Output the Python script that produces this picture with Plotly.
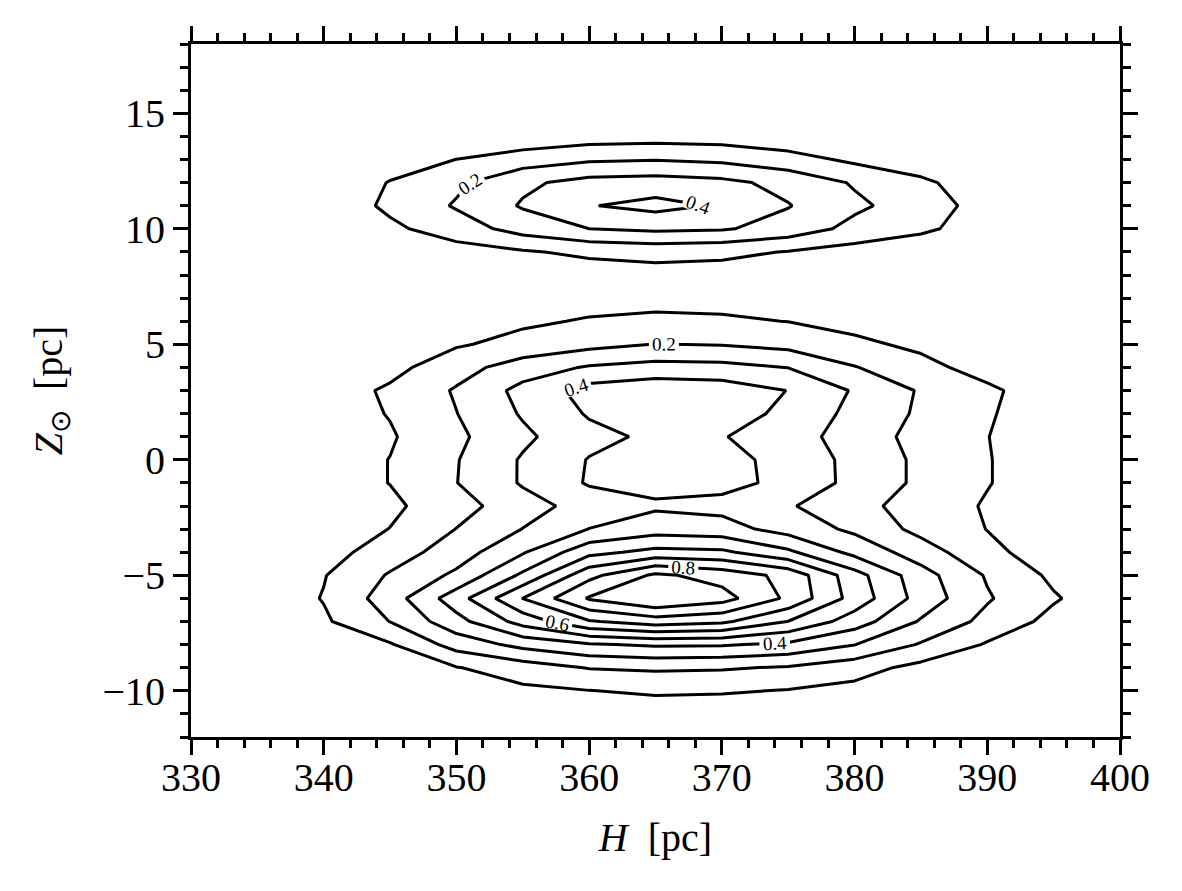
import plotly.graph_objects as go

# grid of the density map
h_pc = [330, 335, 340, 345, 350, 355, 360, 365, 370, 375, 380, 385, 390, 395, 400]
z_pc = list(range(-12, 19))

# rows Z = -12 .. -3
dens_bottom = [
    [0, 0, 0, 0, 0, 0, 0, 0, 0, 0, 0, 0, 0, 0, 0],
    [0, 0, 0, 0, 0.01, 0.02, 0.03, 0.04, 0.035, 0.02, 0.01, 0, 0, 0, 0],
    [0, 0, 0, 0.02, 0.05, 0.08, 0.098, 0.115, 0.11, 0.095, 0.07, 0.04, 0.01, 0, 0],
    [0, 0, 0, 0.04, 0.095, 0.15, 0.205, 0.215, 0.21, 0.19, 0.14, 0.07, 0.02, 0, 0],
    [0, 0, 0.02, 0.09, 0.24, 0.33, 0.39, 0.415, 0.41, 0.38, 0.302, 0.19, 0.09, 0.03, 0],
    [0, 0.02, 0.085, 0.202, 0.365, 0.54, 0.69, 0.75, 0.72, 0.598, 0.45, 0.29, 0.17, 0.07, 0.02],
    [0, 0.03, 0.105, 0.25, 0.455, 0.702, 0.91, 1.0, 0.94, 0.78, 0.56, 0.36, 0.21, 0.11, 0.03],
    [0, 0.02, 0.095, 0.21, 0.32, 0.52, 0.77, 0.92, 0.86, 0.77, 0.54, 0.34, 0.19, 0.08, 0.02],
    [0, 0.01, 0.06, 0.15, 0.25, 0.39, 0.57, 0.63, 0.62, 0.52, 0.37, 0.25, 0.125, 0.05, 0],
    [0, 0.01, 0.04, 0.102, 0.202, 0.302, 0.402, 0.455, 0.44, 0.36, 0.28, 0.17, 0.098, 0.04, 0],
]
# rows Z = -2 .. 7
dens_mid = [
    [0, 0, 0.03, 0.08, 0.16, 0.26, 0.34, 0.385, 0.37, 0.31, 0.23, 0.16, 0.09, 0.03, 0],
    [0, 0.01, 0.05, 0.102, 0.198, 0.31, 0.41, 0.435, 0.43, 0.375, 0.27, 0.18, 0.105, 0.04, 0],
    [0, 0.01, 0.05, 0.102, 0.195, 0.31, 0.405, 0.44, 0.43, 0.37, 0.27, 0.18, 0.105, 0.04, 0],
    [0, 0.01, 0.04, 0.09, 0.18, 0.28, 0.37, 0.42, 0.405, 0.35, 0.25, 0.17, 0.102, 0.035, 0],
    [0, 0.01, 0.05, 0.105, 0.198, 0.31, 0.41, 0.45, 0.44, 0.38, 0.27, 0.185, 0.11, 0.04, 0],
    [0, 0.01, 0.05, 0.115, 0.21, 0.33, 0.44, 0.47, 0.455, 0.398, 0.29, 0.19, 0.12, 0.04, 0],
    [0, 0.01, 0.04, 0.07, 0.16, 0.25, 0.31, 0.335, 0.33, 0.298, 0.205, 0.13, 0.06, 0.03, 0],
    [0, 0.01, 0.02, 0.05, 0.09, 0.13, 0.17, 0.202, 0.195, 0.17, 0.12, 0.08, 0.04, 0.01, 0],
    [0, 0, 0.01, 0.03, 0.05, 0.085, 0.108, 0.12, 0.115, 0.098, 0.07, 0.045, 0.02, 0.01, 0],
    [0, 0, 0.01, 0.02, 0.03, 0.05, 0.065, 0.07, 0.065, 0.05, 0.035, 0.02, 0.01, 0, 0],
]
# rows Z = 8 .. 18
dens_top = [
    [0, 0, 0, 0.01, 0.03, 0.04, 0.05, 0.06, 0.055, 0.04, 0.03, 0.01, 0, 0, 0],
    [0, 0, 0.01, 0.03, 0.06, 0.09, 0.12, 0.135, 0.125, 0.095, 0.06, 0.03, 0.01, 0, 0],
    [0, 0, 0.02, 0.08, 0.15, 0.24, 0.30, 0.32, 0.31, 0.26, 0.17, 0.12, 0.05, 0.01, 0],
    [0, 0, 0.03, 0.12, 0.21, 0.31, 0.395, 0.43, 0.39, 0.305, 0.22, 0.15, 0.06, 0.01, 0],
    [0, 0, 0.02, 0.105, 0.18, 0.28, 0.335, 0.345, 0.325, 0.27, 0.19, 0.12, 0.04, 0, 0],
    [0, 0, 0, 0.05, 0.101, 0.15, 0.185, 0.195, 0.18, 0.14, 0.08, 0.04, 0.01, 0, 0],
    [0, 0, 0, 0, 0.01, 0.03, 0.055, 0.06, 0.055, 0.03, 0.01, 0, 0, 0, 0],
    [0, 0, 0, 0, 0, 0, 0.01, 0.01, 0.01, 0, 0, 0, 0, 0, 0],
    [0, 0, 0, 0, 0, 0, 0, 0, 0, 0, 0, 0, 0, 0, 0],
    [0, 0, 0, 0, 0, 0, 0, 0, 0, 0, 0, 0, 0, 0, 0],
    [0, 0, 0, 0, 0, 0, 0, 0, 0, 0, 0, 0, 0, 0, 0],
]
density = dens_bottom + dens_mid + dens_top

FONT = "Liberation Serif"
black = [[0, "black"], [1, "black"]]

fig = go.Figure()
# unlabelled levels 0.1, 0.3, ...
fig.add_trace(go.Contour(
    x=h_pc, y=z_pc, z=density,
    contours=dict(start=0.1, end=0.95, size=0.2, coloring="lines", showlabels=False),
    colorscale=black, showscale=False, line=dict(width=3, smoothing=0),
    hoverinfo="skip",
))
# labelled levels 0.2, 0.4, ...
fig.add_trace(go.Contour(
    x=h_pc, y=z_pc, z=density,
    contours=dict(start=0.2, end=0.85, size=0.2, coloring="lines", showlabels=True,
                  labelfont=dict(family=FONT, size=19, color="black"), labelformat=".1f"),
    colorscale=black, showscale=False, line=dict(width=3, smoothing=0),
    hoverinfo="skip",
))

axis_style = dict(
    showline=True, linecolor="black", linewidth=3, mirror="ticks",
    ticks="outside", ticklen=15, tickwidth=3, tickcolor="black",
    showgrid=False, zeroline=False,
    tickfont=dict(family=FONT, size=40, color="black"),
)
fig.update_xaxes(range=[330, 400], dtick=10, tick0=330, ticklabelstandoff=-12,
                 minor=dict(dtick=2, ticks="outside", ticklen=8, tickwidth=2.5, tickcolor="black"),
                 title=dict(text="<i>H</i>  [pc]", font=dict(family=FONT, size=40, color="black"), standoff=24),
                 **axis_style)
fig.update_yaxes(range=[-12, 18], dtick=5, tick0=0,
                 minor=dict(dtick=1, ticks="outside", ticklen=8, tickwidth=2.5, tickcolor="black"),
                 title=dict(text="<i>Z</i><sub>⊙</sub>  [pc]", font=dict(family=FONT, size=40, color="black"), standoff=28),
                 **axis_style)

# the page body keeps a default 8 px margin, so the margins are offset by it
fig.update_layout(
    width=1182, height=891,
    margin=dict(l=183, r=70, t=36, b=162),
    plot_bgcolor="white", paper_bgcolor="white",
    showlegend=False,
)

fig.write_html("out.html")
